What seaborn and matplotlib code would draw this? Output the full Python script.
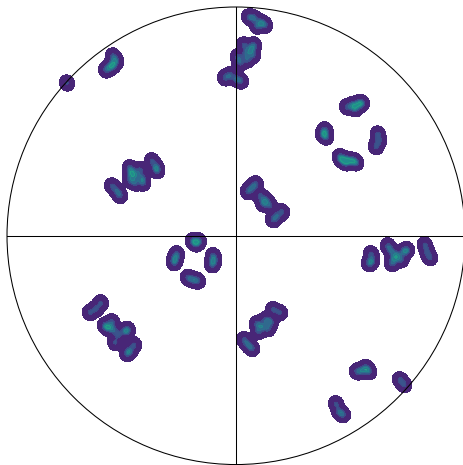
import numpy as np
import pandas as pd
import matplotlib
matplotlib.use("Agg")
import matplotlib.pyplot as plt
from matplotlib.patches import Circle
from matplotlib.colors import ListedColormap
import seaborn as sns

# Projected pole positions (equal-area projection, unit circle)
x = [
    0.057, 0.079, 0.109, 0.127, 0.092,
    0.035, 0.066, 0.074, 0.044, 0.009, 0.048, 0.079, 0.017,
    -0.048, -0.026, 0.000, 0.022,
    -0.738,
    -0.537, -0.524, -0.550, -0.568, -0.537,
    -0.463, -0.441, -0.419, -0.410, -0.441, -0.459, -0.406, -0.463,
    -0.541, -0.520, -0.507,
    -0.367, -0.349, -0.345,
    0.485, 0.511, 0.537, 0.520, 0.550,
    0.389, 0.393, 0.380,
    0.463, 0.489, 0.511, 0.480, 0.454, 0.524,
    0.620, 0.624, 0.611,
    0.087, 0.070, 0.052,
    0.105, 0.131, 0.148, 0.118,
    0.201, 0.179, 0.162,
    0.590, 0.594, 0.581,
    0.677, 0.703, 0.734, 0.721, 0.690, 0.664, 0.747, 0.681,
    0.825, 0.834, 0.847,
    -0.188, -0.162, -0.175,
    -0.258, -0.266, -0.271,
    -0.100, -0.096, -0.105,
    -0.210, -0.188, -0.166,
    -0.590, -0.611, -0.638,
    -0.559, -0.537, -0.515, -0.528, -0.485, -0.572, -0.472, -0.541,
    -0.445, -0.463, -0.476,
    0.162, 0.192,
    0.131, 0.114, 0.096, 0.140, 0.092, 0.153,
    0.035, 0.052, 0.070,
    0.528, 0.568, 0.581, 0.550,
    0.716, 0.734,
    0.437, 0.450, 0.467,
]
y = [
    0.956, 0.952, 0.934, 0.921, 0.917,
    0.834, 0.817, 0.790, 0.799, 0.782, 0.769, 0.834, 0.755,
    0.690, 0.703, 0.686, 0.677,
    0.668,
    0.786, 0.764, 0.738, 0.725, 0.747,
    0.245, 0.266, 0.288, 0.253, 0.231, 0.275, 0.231, 0.297,
    0.218, 0.197, 0.175,
    0.328, 0.301, 0.284,
    0.563, 0.572, 0.576, 0.555, 0.581,
    0.463, 0.432, 0.445,
    0.332, 0.332, 0.328, 0.319, 0.345, 0.319,
    0.445, 0.415, 0.389,
    0.227, 0.210, 0.192,
    0.175, 0.157, 0.131, 0.140,
    0.105, 0.087, 0.070,
    -0.079, -0.109, -0.122,
    -0.066, -0.083, -0.070, -0.105, -0.100, -0.044, -0.061, -0.122,
    -0.039, -0.070, -0.096,
    -0.022, -0.022, -0.035,
    -0.079, -0.100, -0.118,
    -0.087, -0.109, -0.127,
    -0.183, -0.192, -0.197,
    -0.293, -0.319, -0.336,
    -0.402, -0.410, -0.432, -0.467, -0.419, -0.393, -0.410, -0.376,
    -0.476, -0.502, -0.515,
    -0.323, -0.336,
    -0.367, -0.397, -0.419, -0.406, -0.384, -0.376,
    -0.454, -0.476, -0.493,
    -0.594, -0.576, -0.594, -0.590,
    -0.629, -0.651,
    -0.734, -0.769, -0.782,
]

poles = pd.DataFrame({"x": x, "y": y})

# Lower part of viridis: purple -> blue -> teal
base = plt.get_cmap("viridis")
fill_cmap = ListedColormap(base(np.linspace(0.0, 0.55, 256)))
line_cmap = ListedColormap(base(np.linspace(0.2, 0.6, 256)))

mass_levels = [0.02, 0.45, 0.72, 0.88, 0.96, 1.0]

fig = plt.figure(figsize=(4.64, 4.65), dpi=100)
ax = fig.add_axes([0, 0, 1, 1])

sns.kdeplot(data=poles, x="x", y="y", fill=True, cmap=fill_cmap,
            bw_method=0.032, levels=mass_levels, gridsize=350, ax=ax)
sns.kdeplot(data=poles, x="x", y="y", fill=False, cmap=line_cmap,
            bw_method=0.032, levels=mass_levels[1:-1], gridsize=350,
            linewidths=0.5, ax=ax)

# Primitive circle and reference axes
ax.add_patch(Circle((0, 0), 1.0, fill=False, edgecolor="black", lw=0.75, zorder=5))
ax.plot([-1, 1], [0, 0], color="black", lw=0.75, zorder=5)
ax.plot([0, 0], [-1, 1], color="black", lw=0.75, zorder=5)

ax.set_xlim(-1.0306, 0.9956)
ax.set_ylim(-1.002, 1.0306)
ax.set_aspect("auto")
ax.axis("off")

fig.savefig("out.png", dpi=100)
